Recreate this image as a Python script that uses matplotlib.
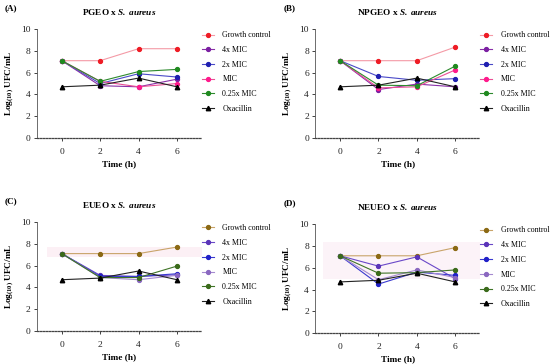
import numpy as np
import matplotlib
matplotlib.use('Agg')
import matplotlib.pyplot as plt

plt.rcParams['font.family'] = 'Liberation Serif'
plt.rcParams['mathtext.fontset'] = 'custom'
plt.rcParams['mathtext.rm'] = 'Liberation Serif'
plt.rcParams['mathtext.bf'] = 'Liberation Serif:bold'
plt.rcParams['mathtext.it'] = 'Liberation Serif:italic'
plt.rcParams['mathtext.bfit'] = 'Liberation Serif:bold:italic'

# ========================================================
# Data (log10 UFC/mL at each time point)
# ========================================================
time_h = [0, 2, 4, 6]
series = ['Growth control', '4x MIC', '2x MIC', 'MIC', '0.25x MIC', 'Oxacillin']

pgeo_growth = [7.1, 7.1, 8.2, 8.2]
pgeo_4x = [7.1, 4.8, 4.7, 5.4]
pgeo_2x = [7.1, 5.0, 5.9, 5.6]
pgeo_mic = [7.1, 5.2, 4.7, 5.0]
pgeo_025x = [7.1, 5.2, 6.1, 6.3]
pgeo_oxa = [4.7, 4.85, 5.5, 4.7]

npgeo_growth = [7.1, 7.1, 7.1, 8.35]
npgeo_4x = [7.1, 4.45, 4.95, 4.7]
npgeo_2x = [7.1, 5.65, 5.3, 5.45]
npgeo_mic = [7.1, 4.6, 4.7, 6.25]
npgeo_025x = [7.1, 4.85, 4.8, 6.6]
npgeo_oxa = [4.7, 4.85, 5.5, 4.7]

eueo_growth = [7.1, 7.1, 7.1, 7.7]
eueo_4x = [7.1, 5.1, 5.0, 5.15]
eueo_2x = [7.1, 5.0, 5.0, 5.25]
eueo_mic = [7.1, 4.9, 4.7, 5.1]
eueo_025x = [7.1, 4.9, 4.9, 5.95]
eueo_oxa = [4.7, 4.85, 5.5, 4.7]

neueo_growth = [7.1, 7.1, 7.1, 7.85]
neueo_4x = [7.1, 6.15, 7.0, 5.0]
neueo_2x = [7.1, 4.5, 5.6, 5.3]
neueo_mic = [7.1, 4.9, 5.8, 5.1]
neueo_025x = [7.1, 5.5, 5.55, 5.8]
neueo_oxa = [4.7, 4.85, 5.5, 4.7]

# (line colour, marker colour, marker) per series
style_ab = [('#f49aa6', '#ee1c25', 'o'), ('#8a2fa8', '#7b1fa2', 'o'),
            ('#4a4ac8', '#1f1fb0', 'o'), ('#ea4f95', '#ff1a8c', 'o'),
            ('#2e8a2e', '#1f8a1f', 'o'), ('#222222', '#000000', '^')]
style_cd = [('#c9a46a', '#8b6914', 'o'), ('#6a48c8', '#5a34b8', 'o'),
            ('#3a3ad0', '#2020c8', 'o'), ('#a58ad0', '#8a68c0', 'o'),
            ('#3f7426', '#3a6a1a', 'o'), ('#222222', '#000000', '^')]

panels = [
    ('(A)', 'PGEO', [pgeo_growth, pgeo_4x, pgeo_2x, pgeo_mic, pgeo_025x, pgeo_oxa], style_ab,
     [0.067, 0.621, 0.300, 0.299]),
    ('(B)', 'NPGEO', [npgeo_growth, npgeo_4x, npgeo_2x, npgeo_mic, npgeo_025x, npgeo_oxa], style_ab,
     [0.573, 0.621, 0.300, 0.299]),
    ('(C)', 'EUEO', [eueo_growth, eueo_4x, eueo_2x, eueo_mic, eueo_025x, eueo_oxa], style_cd,
     [0.067, 0.091, 0.300, 0.299]),
    ('(D)', 'NEUEO', [neueo_growth, neueo_4x, neueo_2x, neueo_mic, neueo_025x, neueo_oxa], style_cd,
     [0.573, 0.085, 0.300, 0.299]),
]

fig = plt.figure(figsize=(5.5, 3.64), dpi=100)

for tag, name, values, styles, rect in panels:
    ax = fig.add_axes(rect)
    for label, vals, (lc, mc, mk) in zip(series, values, styles):
        ax.plot(time_h, vals, color=lc, linewidth=0.8, marker=mk,
                markersize=2.8 if mk == 'o' else 3.2,
                markerfacecolor=mc, markeredgecolor=mc, label=label)

    # faint highlight band artefacts seen in the lower panels
    if tag == '(C)':
        ax.axhspan(6.8, 7.7, xmin=0.06, xmax=1.0, color='#fcf0f5', zorder=0, lw=0)
    if tag == '(D)':
        ax.axhspan(5.0, 8.4, xmin=0.05, xmax=1.0, color='#fcf3f8', zorder=0, lw=0)

    ax.set_xlim(-1.3, 7.3)
    ax.set_ylim(0, 10)
    ax.set_xticks([0, 2, 4, 6])
    ax.set_yticks([0, 2, 4, 6, 8, 10])
    ax.tick_params(labelsize=6.8, length=2.5, width=0.6, pad=2, colors='#222222')
    ax.tick_params(axis='x', length=2, pad=5)
    for s in ['top', 'right']:
        ax.spines[s].set_visible(False)
    ax.spines['left'].set_linewidth(0.6)
    ax.spines['left'].set_color('#555555')
    ax.spines['bottom'].set_linestyle((0, (1.2, 1.2)))
    ax.spines['bottom'].set_linewidth(0.9)
    ax.spines['bottom'].set_color('#444444')

    ax.set_xlabel('Time (h)', fontsize=6.7, fontweight='bold', labelpad=3)
    ax.set_ylabel(r'Log$_{\mathbf{(10)}}$ UFC/mL', fontsize=6.7, fontweight='bold', labelpad=4)
    ax.set_title(name + r' x $\mathbfit{S.\ aureus}$', fontsize=6.7, fontweight='bold', pad=10)

    ax.legend(loc='upper left', bbox_to_anchor=(1.0, 0.98), frameon=False,
              fontsize=5.7, handlelength=1.5, handletextpad=1.1, labelspacing=0.85,
              borderpad=0, borderaxespad=0)

    fig.text(rect[0] - 0.058, rect[1] + rect[3] + 0.058, tag, fontsize=6.5,
             fontweight='bold', va='center', ha='left')

plt.savefig('out.png', dpi=100)
